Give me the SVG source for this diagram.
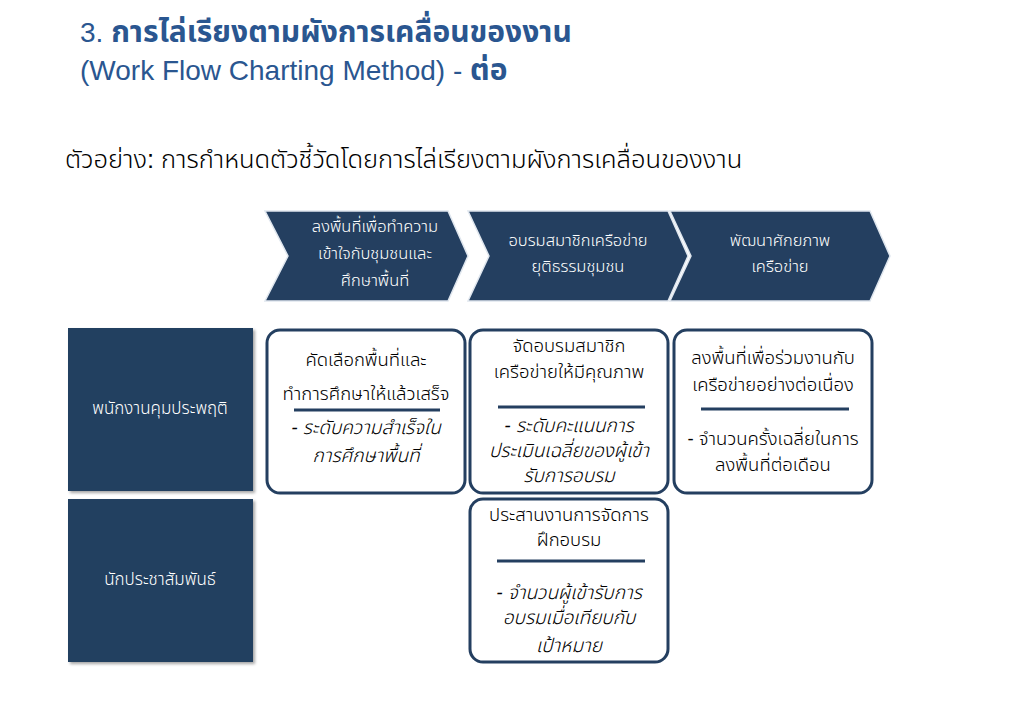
<svg xmlns="http://www.w3.org/2000/svg" width="1023" height="708" viewBox="0 0 1023 708">
<defs>
<style>
.t{font-family:"Liberation Sans","Noto Sans Thai","Noto Sans",sans-serif;}
.title{fill:#2a5690;font-size:28px;}
.th{font-weight:bold;font-size:30px;}
.sub{fill:#000;font-size:25.5px;font-weight:300;}
.chev{fill:#243f60;stroke:#dfe6ee;stroke-width:1.5;}
.ct{fill:#fff;font-size:16.5px;text-anchor:middle;font-weight:300;}
.lane{fill:#243f60;}
.lt{fill:#fff;font-size:17px;text-anchor:middle;font-weight:300;}
.box{fill:#fff;stroke:#243f60;stroke-width:3;}
.bt{fill:#000;font-size:18.5px;text-anchor:middle;font-weight:300;}
.it{font-style:italic;font-size:19px;}
.sep{stroke:#243f60;stroke-width:3;}
</style>
<filter id="sh" x="-5%" y="-5%" width="115%" height="115%">
<feDropShadow dx="2" dy="2" stdDeviation="1.5" flood-color="#000" flood-opacity="0.35"/>
</filter>
</defs>
<rect width="1023" height="708" fill="#fff"/>
<g id="title">
<text class="t title" x="80" y="42">3. <tspan class="th">การไล่เรียงตามผังการเคลื่อนของงาน</tspan></text>
<text class="t title" x="80" y="80">(Work Flow Charting Method) - <tspan class="th">ต่อ</tspan></text>
<text class="t sub" x="65" y="168">ตัวอย่าง: การกำหนดตัวชี้วัดโดยการไล่เรียงตามผังการเคลื่อนของงาน</text>
</g>
<g id="phase1">
<polygon class="chev" points="265,211 448,211 468,256 448,301 265,301 288,256"/>
<text class="t ct" x="375" y="232">ลงพื้นที่เพื่อทำความ</text>
<text class="t ct" x="375" y="259">เข้าใจกับชุมชนและ</text>
<text class="t ct" x="375" y="286">ศึกษาพื้นที่</text>
</g>
<g id="phase2">
<polygon class="chev" points="468,211 668,211 688,256 668,301 468,301 489,256"/>
<text class="t ct" x="578" y="246">อบรมสมาชิกเครือข่าย</text>
<text class="t ct" x="578" y="272">ยุติธรรมชุมชน</text>
</g>
<g id="phase3">
<polygon class="chev" points="670,211 870,211 890,256 870,301 670,301 691,256"/>
<text class="t ct" x="780" y="246">พัฒนาศักยภาพ</text>
<text class="t ct" x="780" y="272">เครือข่าย</text>
</g>
<g id="lane1">
<rect class="lane" x="68" y="328" width="185" height="163" filter="url(#sh)"/>
<text class="t lt" x="160" y="414">พนักงานคุมประพฤติ</text>
</g>
<g id="lane2">
<rect class="lane" x="68" y="499" width="185" height="163" filter="url(#sh)"/>
<text class="t lt" x="160" y="585">นักประชาสัมพันธ์</text>
</g>
<g id="box1">
<rect class="box" x="267" y="330" width="198" height="163" rx="13"/>
<text class="t bt" x="366" y="366">คัดเลือกพื้นที่และ</text>
<text class="t bt" x="366" y="400">ทำการศึกษาให้แล้วเสร็จ</text>
<line class="sep" x1="294" y1="410" x2="440" y2="410"/>
<text class="t bt it" x="366" y="434">- ระดับความสำเร็จใน</text>
<text class="t bt it" x="366" y="462">การศึกษาพื้นที่</text>
</g>
<g id="box2">
<rect class="box" x="470" y="330" width="198" height="163" rx="13"/>
<text class="t bt" x="569" y="352">จัดอบรมสมาชิก</text>
<text class="t bt" x="569" y="378">เครือข่ายให้มีคุณภาพ</text>
<line class="sep" x1="498" y1="407" x2="645" y2="407"/>
<text class="t bt it" x="569" y="432">- ระดับคะแนนการ</text>
<text class="t bt it" x="569" y="457">ประเมินเฉลี่ยของผู้เข้า</text>
<text class="t bt it" x="569" y="482">รับการอบรม</text>
</g>
<g id="box3">
<rect class="box" x="674" y="330" width="198" height="163" rx="13"/>
<text class="t bt" x="773" y="364">ลงพื้นที่เพื่อร่วมงานกับ</text>
<text class="t bt" x="773" y="391">เครือข่ายอย่างต่อเนื่อง</text>
<line class="sep" x1="701" y1="409" x2="849" y2="409"/>
<text class="t bt" x="773" y="445">- จำนวนครั้งเฉลี่ยในการ</text>
<text class="t bt" x="773" y="471">ลงพื้นที่ต่อเดือน</text>
</g>
<g id="box4">
<rect class="box" x="470" y="499" width="198" height="163" rx="13"/>
<text class="t bt" x="569" y="521">ประสานงานการจัดการ</text>
<text class="t bt" x="569" y="546">ฝึกอบรม</text>
<line class="sep" x1="497" y1="561" x2="645" y2="561"/>
<text class="t bt it" x="569" y="599">- จำนวนผู้เข้ารับการ</text>
<text class="t bt it" x="569" y="624">อบรมเมื่อเทียบกับ</text>
<text class="t bt it" x="569" y="652">เป้าหมาย</text>
</g>
<g id="connectors"></g>
</svg>
